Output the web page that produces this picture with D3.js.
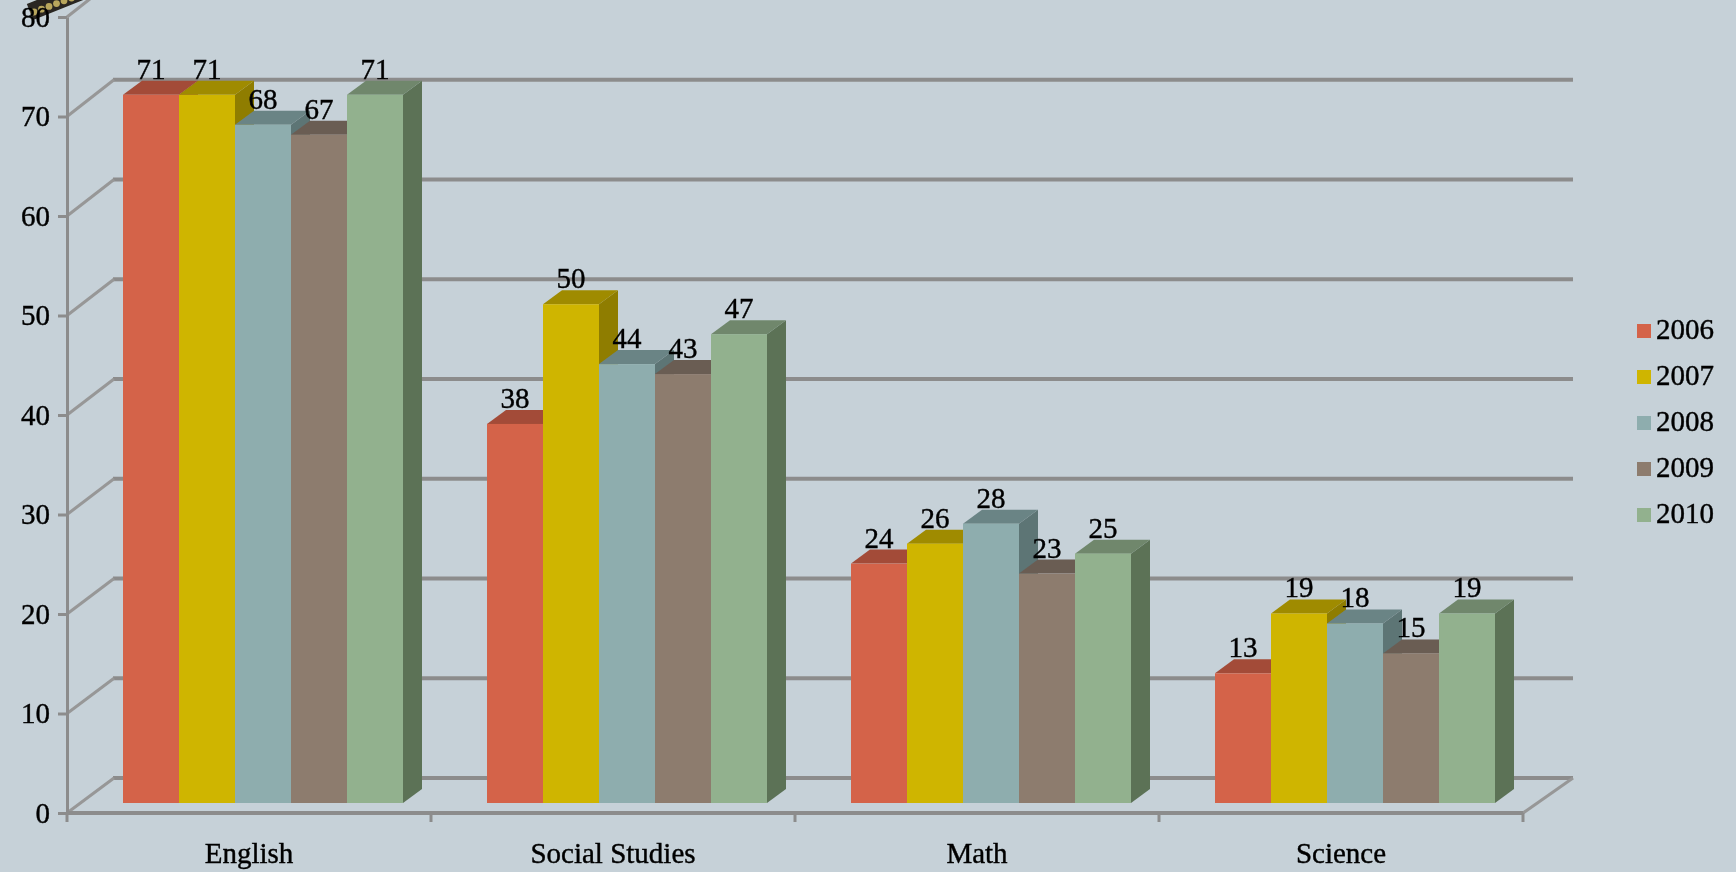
<!DOCTYPE html>
<html>
<head>
<meta charset="utf-8">
<script src="https://cdnjs.cloudflare.com/ajax/libs/d3/7.8.5/d3.min.js"></script>
<style>
html, body { margin: 0; padding: 0; background: #c6d1d8; }
svg { display: block; }
text { font-family: "Liberation Serif", serif; fill: #000; stroke: #000; stroke-width: 0.4px; }
</style>
</head>
<body>
<svg></svg>
<script>
var width = 1736;
var height = 872;

var categories = ["English", "Social Studies", "Math", "Science"];
var years = ["2006", "2007", "2008", "2009", "2010"];
var values2006 = [71, 38, 24, 13];
var values2007 = [71, 50, 26, 19];
var values2008 = [68, 44, 28, 18];
var values2009 = [67, 43, 23, 15];
var values2010 = [71, 47, 25, 19];
var seriesValues = [values2006, values2007, values2008, values2009, values2010];
var frontColors = ["#d4634a", "#cfb500", "#8eadae", "#8d7b6e", "#92b18e"];
var topColors = ["#a34c38", "#9f8b00", "#6b8485", "#6b5d53", "#6f876c"];
var sideColors = ["#8f4331", "#8f7d00", "#5d7475", "#5e5148", "#5c7257"];
var yTicks = [0, 10, 20, 30, 40, 50, 60, 70, 80];

// plot geometry, front plane of the box
var axisLeft = 67, axisRight = 1523;
var wallDx = 47, wallEnd = 1573;
var barDx = 19, barDy = -14;
var fontSize = "29px";

var yScale = d3.scaleLinear().domain([0, 80]).range([813, 17]);
var backY = d3.scaleLinear().domain([0, 80]).range([778, -20]);
var xScale = d3.scaleBand().domain(categories).range([axisLeft, axisRight]);
var barScale = d3.scaleBand().domain(years).range([56, 336]);
var barBase = 803;
var barY = d3.scaleLinear().domain([0, 80]).range([barBase, barBase - 798]);

var svg = d3.select("svg").attr("width", width).attr("height", height);

// the reference is a slightly soft upscaled image
svg.append("filter").attr("id", "soft")
    .attr("x", 0).attr("y", 0).attr("width", 1).attr("height", 1)
    .attr("filterUnits", "objectBoundingBox")
    .append("feGaussianBlur").attr("stdDeviation", 0.6);

var root = svg.append("g").attr("filter", "url(#soft)");
root.append("rect").attr("width", width).attr("height", height).attr("fill", "#c6d1d8");

var axisColor = "#8c8c8c";

// beaded ornament poking in at the top left corner
var beads = d3.range(7);
var ornament = root.append("g");
ornament.append("line").attr("x1", 30).attr("y1", 12).attr("x2", 80).attr("y2", -8)
    .attr("stroke", "#2a2620").attr("stroke-width", 17);
ornament.selectAll("circle").data(beads).enter().append("circle")
    .attr("cx", function(d) { return 34 + d * 7.5; })
    .attr("cy", function(d) { return 12 - d * 2.8; })
    .attr("r", 3.4)
    .attr("fill", "#b8a65c");

// gridlines: back wall + side wall
var grid = root.append("g");
yTicks.forEach(function(t) {
    grid.append("line")
        .attr("x1", axisLeft + wallDx - 1).attr("x2", wallEnd)
        .attr("y1", backY(t)).attr("y2", backY(t))
        .attr("stroke", axisColor).attr("stroke-width", 4);
    grid.append("line")
        .attr("x1", axisLeft).attr("x2", axisLeft + wallDx)
        .attr("y1", yScale(t)).attr("y2", backY(t))
        .attr("stroke", "#979797").attr("stroke-width", 3);
});
// floor right edge
grid.append("line")
    .attr("x1", axisRight).attr("x2", wallEnd)
    .attr("y1", yScale(0)).attr("y2", backY(0))
    .attr("stroke", "#979797").attr("stroke-width", 3);

// y axis
var yAxis = d3.axisLeft(yScale).tickValues(yTicks).tickSize(9).tickSizeOuter(0).tickPadding(8);
var yG = root.append("g").attr("transform", "translate(" + axisLeft + ",0)").call(yAxis);
yG.select(".domain").attr("stroke", axisColor).attr("stroke-width", 3);
yG.selectAll(".tick line").attr("stroke", axisColor).attr("stroke-width", 3);
yG.selectAll("text").style("font-size", fontSize).style("font-family", "\"Liberation Serif\", serif");

// x axis
var xG = root.append("g").attr("transform", "translate(0,813)");
xG.append("line").attr("x1", axisLeft).attr("x2", axisRight).attr("y1", 0).attr("y2", 0)
    .attr("stroke", axisColor).attr("stroke-width", 4);
categories.concat(["end"]).forEach(function(c) {
    var px = c == "end" ? axisRight : xScale(c);
    xG.append("line").attr("x1", px).attr("x2", px).attr("y1", 0).attr("y2", 9)
        .attr("stroke", axisColor).attr("stroke-width", 3);
});
xG.selectAll("text.cat").data(categories).enter().append("text")
    .attr("class", "cat")
    .attr("x", function(d) { return xScale(d) + xScale.bandwidth() / 2; })
    .attr("y", 50)
    .attr("text-anchor", "middle")
    .style("font-size", fontSize)
    .text(function(d) { return d; });

// bars, left to right so the neighbours overlap properly
var bars = [];
categories.forEach(function(c, ci) {
    years.forEach(function(y, si) {
        bars.push({ cat: c, year: y, s: si, value: seriesValues[si][ci] });
    });
});

var g = root.append("g");
bars.forEach(function(d) {
    var x0 = xScale(d.cat) + barScale(d.year);
    var w = barScale.bandwidth();
    var top = barY(d.value);
    // side
    g.append("path")
        .attr("d", d3.line()([[x0 + w, top], [x0 + w + barDx, top + barDy], [x0 + w + barDx, barBase + barDy], [x0 + w, barBase]]) + "Z")
        .attr("fill", sideColors[d.s]);
    // top
    g.append("path")
        .attr("d", d3.line()([[x0, top], [x0 + barDx, top + barDy], [x0 + w + barDx, top + barDy], [x0 + w, top]]) + "Z")
        .attr("fill", topColors[d.s]);
    // front
    g.append("rect")
        .attr("x", x0).attr("y", top).attr("width", w).attr("height", barBase - top)
        .attr("fill", frontColors[d.s]);
});

// data labels on top
root.append("g").selectAll("text").data(bars).enter().append("text")
    .attr("x", function(d) { return xScale(d.cat) + barScale(d.year) + barScale.bandwidth() / 2; })
    .attr("y", function(d) { return barY(d.value) - 16; })
    .attr("text-anchor", "middle")
    .style("font-size", fontSize)
    .text(function(d) { return d.value; });

// legend
var legendY = d3.scaleBand().domain(years).range([308, 538]);
var legend = root.append("g").selectAll("g").data(years).enter().append("g")
    .attr("transform", function(d) { return "translate(1637," + legendY(d) + ")"; });
legend.append("rect").attr("width", 14).attr("height", 14)
    .attr("y", 16)
    .attr("fill", function(d, i) { return frontColors[i]; });
legend.append("text").attr("x", 19).attr("y", 31)
    .style("font-size", fontSize)
    .text(function(d) { return d; });
</script>
</body>
</html>
